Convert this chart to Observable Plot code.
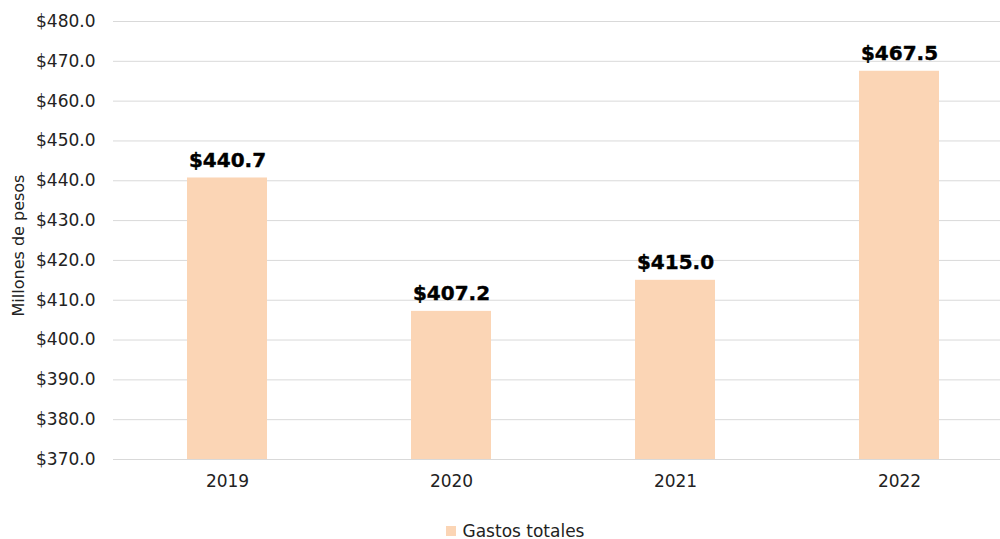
<!DOCTYPE html>
<html>
<head>
<meta charset="utf-8">
<script src="https://cdn.jsdelivr.net/npm/d3@7"></script>
<script src="https://cdn.jsdelivr.net/npm/@observablehq/plot@0.6"></script>
<style>
  html, body { margin: 0; padding: 0; background: #fff; }
  body { width: 1000px; height: 539px; overflow: hidden; font-family: "DejaVu Sans", sans-serif; }
  #legend { display: flex; justify-content: center; align-items: center; margin-top: 16px; height: 20px; font-size: 17px; color: #222; padding-left: 30px; }
  #legend .sw { width: 10px; height: 10px; background: #FBD5B5; margin-right: 7px; }
</style>
</head>
<body>
<div id="chart"></div>
<div id="legend"><span class="sw"></span><span>Gastos totales</span></div>
<script>
const years = ["2019", "2020", "2021", "2022"];
const gastos = [440.7, 407.2, 415.0, 467.5];
const yTicks = [370, 380, 390, 400, 410, 420, 430, 440, 450, 460, 470, 480];
const seriesName = "Gastos totales";
const yLabel = "Millones de pesos";

const data = years.map((y, i) => ({year: y, value: gastos[i]}));
const fmt = v => "$" + v.toFixed(1);

const chart = Plot.plot({
  width: 1000,
  height: 505,
  marginLeft: 113,
  marginRight: 0,
  marginTop: 21,
  marginBottom: 46,
  style: {fontFamily: "DejaVu Sans, sans-serif", fontSize: "17px", color: "#222", background: "#fff"},
  x: {domain: years, range: [114, 1011], paddingInner: 0.643, paddingOuter: 0.3215, label: null},
  y: {domain: [370, 480], label: null},
  marks: [
    Plot.ruleY(yTicks, {stroke: "#d9d9d9", strokeWidth: 1}),
    Plot.rectY(data, {x: "year", y1: 370, y2: "value", fill: "#FBD5B5"}),
    Plot.text(data, {x: "year", y: "value", text: d => fmt(d.value), dy: -11, lineAnchor: "bottom", fontWeight: "bold", fontSize: 20, fill: "#000", stroke: "#000", strokeWidth: 0.4}),
    Plot.axisX({tickSize: 0, tickPadding: 15, fontSize: 17, label: null}),
    Plot.axisY({ticks: yTicks, tickFormat: fmt, tickSize: 0, tickPadding: 18, fontSize: 17, label: null}),
    Plot.text([yLabel], {frameAnchor: "left", dx: -95, dy: 5, rotate: -90, textAnchor: "middle", fontSize: 16, fill: "#222"})
  ]
});
document.getElementById("chart").appendChild(chart);
</script>
</body>
</html>
